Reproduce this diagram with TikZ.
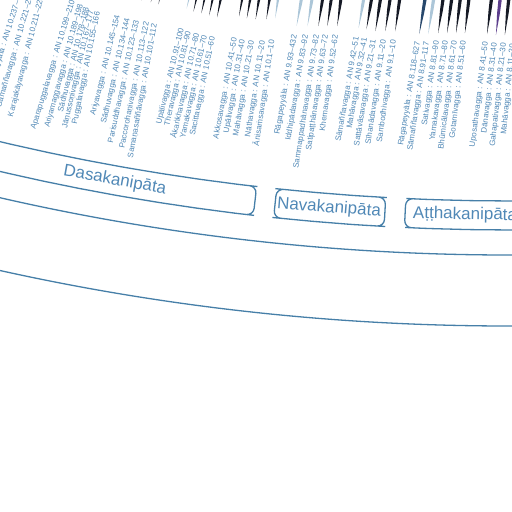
\documentclass[tikz,border=0pt]{standalone}
\usepackage{fontspec}
\setmainfont{Liberation Sans}
\usetikzlibrary{calc}
\definecolor{tblue}{RGB}{80,136,182}
\definecolor{lblue}{RGB}{70,127,168}
\definecolor{barlight}{RGB}{172,198,216}
\definecolor{bardark}{RGB}{22,26,38}
\definecolor{barpurple}{RGB}{92,62,140}
\definecolor{barnavy}{RGB}{40,72,108}
% name, Ex, Ey, Fx, Fy, text, bar colour, gap
\newcommand\vg[8]{%
  \pgfmathsetmacro\vgang{atan2(#3-#5,#4-#2)}%
  \begin{scope}[shift={(#2,#3)},rotate=\vgang]
    \node[lbl,anchor=east,transform shape] (#1) at (0,0) {#6};
    \fill[#7] (#8,0) -- ++(22,1.4) -- ++(150,3) -- ++(0,-8.8) -- ++(-150,3) -- cycle;
  \end{scope}}
\begin{document}
\begin{tikzpicture}[x=1pt,y=-1pt,
  lbl/.style={font=\fontsize{8}{9.5}\selectfont, text=tblue, inner sep=0pt},
  nip/.style={font=\fontsize{17}{20}\selectfont, text=tblue, inner sep=0pt},
  ring/.style={draw=lblue, line width=1.3pt},
  nbox/.style={draw=lblue, line width=1.3pt, rounded corners=7pt}]
\useasboundingbox (0,0) rectangle (512,512);
\clip (0,0) rectangle (512,512);
\coordinate (C) at (509,-2015);
\draw[ring] (C) circle[radius=2270pt];
\draw[ring] (C) circle[radius=2341pt];
\begin{scope}[shift={(C)}]
  \draw[nbox] plot[domain=96.54:106, samples=60] (\x:2216) -- plot[domain=106:96.54, samples=60] (\x:2245) -- cycle;
  \draw[nbox] plot[domain=93.19:96.02, samples=20] (\x:2216) -- plot[domain=96.02:93.19, samples=20] (\x:2245) -- cycle;
  \draw[nbox] plot[domain=85:92.67, samples=40] (\x:2216) -- plot[domain=92.67:85, samples=40] (\x:2245) -- cycle;
  \node[nip, rotate=-10.18] (dasaka) at (100.18:2230.5) {Dasakanipāta};
  \node[nip, rotate=-4.63] (navaka) at (94.63:2230.5) {Navakanipāta};
  \node[nip, rotate=-1.13] (attha) at (91.13:2230.5) {Aṭṭhakanipāta};
\end{scope}
% group A
\vg{a1}{22}{-12}{142}{-392}{Rāgapeyyāla : AN 10.237–746}{bardark}{20}
\vg{a2}{32}{-8}{142}{-392}{Sāmaññavagga : AN 10.221–236}{bardark}{20}
\vg{a3}{42}{-4}{142}{-392}{Karajakāyavagga : AN 10.211–220}{bardark}{20}
% group B
\vg{b1}{73}{0}{157}{-274}{Aparapuggalavagga : AN 10.199–210}{bardark}{20}
\vg{b2}{81}{4}{157}{-274}{Ariyamaggavagga : AN 10.189–198}{bardark}{20}
\vg{b3}{87}{7}{157}{-274}{Sādhuvagga : AN 10.178–188}{bardark}{20}
\vg{b4}{92}{10}{157}{-274}{Jāṇussoṇivagga : AN 10.167–177}{bardark}{20}
\vg{b5}{98}{12}{157}{-274}{Puggalavagga : AN 10.155–166}{bardark}{20}
% group C
\vg{c1}{118}{15}{262}{-567}{Ariyavagga : AN 10.145–154}{bardark}{20}
\vg{c2}{128}{18}{262}{-567}{Sādhuvagga : AN 10.134–144}{bardark}{20}
\vg{c3}{137}{20}{262}{-567}{Parisuddhavagga : AN 10.123–133}{bardark}{20}
\vg{c4}{147}{22}{262}{-567}{Paccorohaṇivagga : AN 10.113–122}{bardark}{20}
\vg{c5}{155}{24}{262}{-567}{Samaṇasaññāvagga : AN 10.101–112}{bardark}{20}
% group D
\vg{d1}{182}{28}{413}{-943}{Upālivagga : AN 10.91–100}{barlight}{20}
\vg{d2}{189}{31}{413}{-943}{Theravagga : AN 10.81–90}{bardark}{20}
\vg{d3}{197}{33}{413}{-943}{Ākaṅkhavagga : AN 10.71–80}{bardark}{20}
\vg{d4}{205}{35}{413}{-943}{Yamakavagga : AN 10.61–70}{bardark}{20}
\vg{d5}{213}{37}{413}{-943}{Sacittavagga : AN 10.51–60}{bardark}{20}
% group E
\vg{e1}{235}{38}{417}{-946}{Akkosavagga : AN 10.41–50}{bardark}{22}
\vg{e2}{243}{40}{417}{-946}{Upālivagga : AN 10.31–40}{bardark}{22}
\vg{e3}{252}{41}{417}{-946}{Mahāvagga : AN 10.21–30}{bardark}{22}
\vg{e4}{263}{41}{417}{-946}{Nāthavagga : AN 10.11–20}{bardark}{22}
\vg{e5}{272}{40}{417}{-946}{Ānisaṁsavagga : AN 10.1–10}{barlight}{22}
% group F
\vg{f1}{295}{35}{471}{-953}{Rāgapeyyāla : AN 9.93–432}{barlight}{9}
\vg{f2}{306}{35}{471}{-953}{Iddhipādavagga : AN 9.83–92}{barlight}{9}
\vg{f3}{317}{35}{471}{-953}{Sammappadhānavagga : AN 9.73–82}{bardark}{9}
\vg{f4}{326}{35}{471}{-953}{Satipaṭṭhānavagga : AN 9.63–72}{bardark}{9}
\vg{f5}{336}{35}{471}{-953}{Khemavagga : AN 9.52–62}{bardark}{9}
% group G
\vg{g1}{357}{37}{531}{-949}{Sāmaññavagga : AN 9.42–51}{barlight}{9}
\vg{g2}{365}{38}{531}{-949}{Mahāvagga : AN 9.32–41}{bardark}{9}
\vg{g3}{374}{40}{531}{-949}{Sattāvāsavagga : AN 9.21–31}{bardark}{9}
\vg{g4}{384}{40}{531}{-949}{Sīhanādavagga : AN 9.11–20}{bardark}{9}
\vg{g5}{394}{40}{531}{-949}{Sambodhivagga : AN 9.1–10}{bardark}{9}
% group H
\vg{h1}{418}{42}{580}{-949}{Rāgapeyyāla : AN 8.118–627}{barnavy}{8}
\vg{h2}{427}{42}{580}{-949}{Sāmaññavagga : AN 8.91–117}{barlight}{8}
\vg{h3}{437}{41}{580}{-949}{Sativagga : AN 8.81–90}{bardark}{8}
\vg{h4}{446}{41}{580}{-949}{Yamakavagga : AN 8.71–80}{bardark}{8}
\vg{h5}{455}{41}{580}{-949}{Bhūmicālavagga : AN 8.61–70}{bardark}{8}
\vg{h6}{464}{41}{580}{-949}{Gotamīvagga : AN 8.51–60}{bardark}{8}
% group I
\vg{i1}{486}{42}{612}{-951}{Uposathavagga : AN 8.41–50}{bardark}{8}
\vg{i2}{495}{43}{612}{-951}{Dānavagga : AN 8.31–40}{barpurple}{8}
\vg{i3}{504}{43}{612}{-951}{Gahapativagga : AN 8.21–30}{bardark}{8}
\vg{i4}{513}{44}{612}{-951}{Mahāvagga : AN 8.11–20}{bardark}{8}
\end{tikzpicture}
\end{document}
